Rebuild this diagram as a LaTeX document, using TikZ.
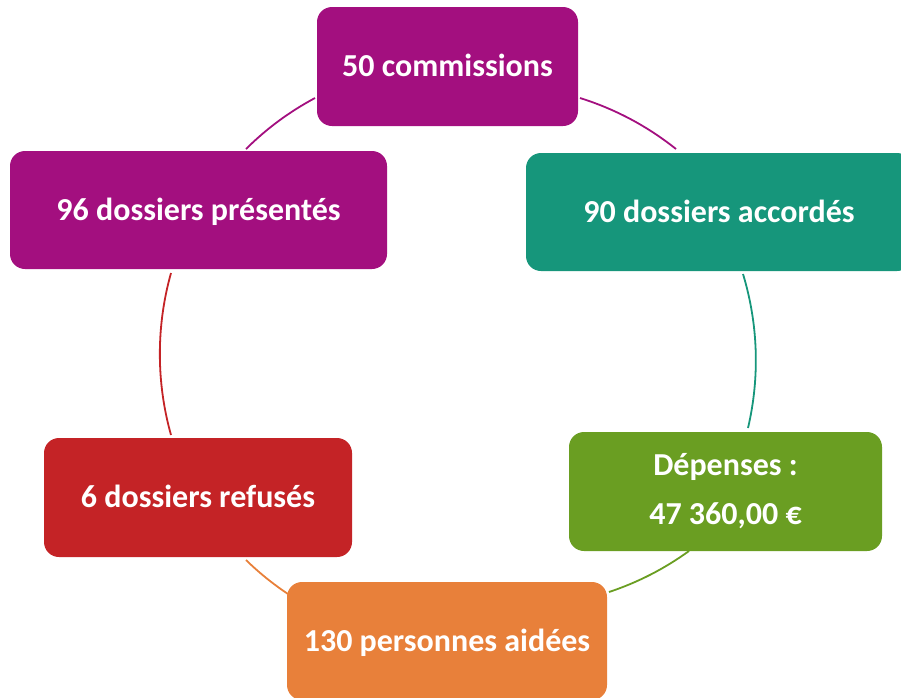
\documentclass[tikz,border=0pt]{standalone}
\usepackage{fontspec}
\setmainfont{Carlito}
\definecolor{cpurple}{HTML}{A30F7F}
\definecolor{cteal}{HTML}{16967B}
\definecolor{cgreen}{HTML}{6A9E22}
\definecolor{corange}{HTML}{E8803A}
\definecolor{cred}{HTML}{C42326}
\begin{document}
\begin{tikzpicture}[x=1pt,y=-1pt,
  boxbase/.style={rounded corners=15pt, text=white, font=\bfseries\fontsize{32}{49}\selectfont,
    align=center, inner sep=0pt},
  box/.style={boxbase, text height=25.5pt, text depth=5.3pt},
  link/.style={line width=1.8pt, looseness=0.87}]
\useasboundingbox (0,0) rectangle (901,697);
\clip (0,0) rectangle (901,697);
\node[box, fill=cpurple, minimum width=261pt, minimum height=119pt] (b1) at (447.5,66.5) {50 commissions};
\node[box, fill=cteal, minimum width=386pt, minimum height=118pt] (b2) at (719,212) {90 dossiers accordés};
\node[boxbase, fill=cgreen, minimum width=313pt, minimum height=119pt] (b3) at (725.5,491.5) {Dépenses :\\47 360,00 €};
\node[box, fill=corange, minimum width=320pt, minimum height=118pt] (b4) at (447,641) {130 personnes aidées};
\node[box, fill=cred, minimum width=308pt, minimum height=119pt] (b5) at (198,497.5) {6 dossiers refusés};
\node[box, fill=cpurple, minimum width=377pt, minimum height=118pt] (b6) at (198.5,210) {96 dossiers présentés};
\coordinate (a1s) at (246,149); \coordinate (a1e) at (315,98);
\coordinate (a2s) at (580,98);  \coordinate (a2e) at (676,149);
\coordinate (a3s) at (743,274); \coordinate (a3e) at (748,428);
\coordinate (a4s) at (689,551); \coordinate (a4e) at (609,592);
\coordinate (a5s) at (288,594); \coordinate (a5e) at (246,560);
\coordinate (a6s) at (171,435); \coordinate (a6e) at (171,273);
\draw[link, cpurple] (a1s) to[bend left=8.25] (a1e);
\draw[link, cpurple] (a2s) to[bend left=10.5] (a2e);
\draw[link, cteal] (a3s) to[bend left=15] (a3e);
\draw[link, cgreen] (a4s) to[bend left=8.65] (a4e);
\draw[link, corange] (a5s) to[bend left=5.2] (a5e);
\draw[link, cred] (a6s) to[bend left=15.7] (a6e);
\end{tikzpicture}
\end{document}
